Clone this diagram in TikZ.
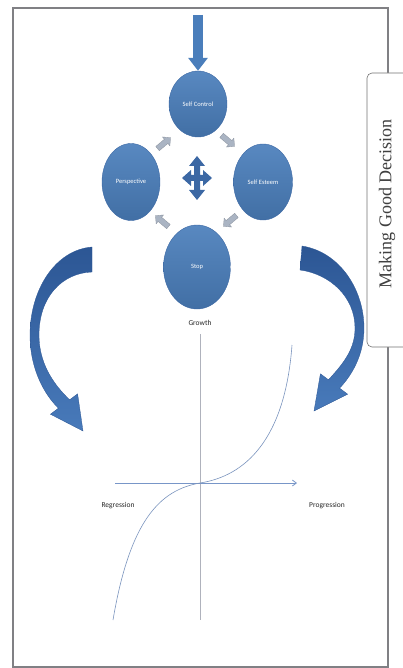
\documentclass[tikz,border=0pt]{standalone}
\usepackage{fontspec}
\setmainfont{Liberation Serif}
\newfontfamily\calfont{Carlito}
\usetikzlibrary{arrows.meta,positioning,calc,shapes.arrows,shapes.geometric}
\definecolor{circblue}{RGB}{74,126,187}
\definecolor{circdark}{RGB}{60,104,164}
\definecolor{curvtop}{RGB}{44,86,148}
\definecolor{curvbot}{RGB}{72,122,186}
\definecolor{framegray}{RGB}{128,128,132}
\definecolor{axisblue}{RGB}{120,150,200}
\definecolor{axisgray}{RGB}{175,178,188}
\definecolor{arrgray}{RGB}{170,180,195}
\tikzset{
  >={Latex[length=2mm]},
  circ/.style={ellipse,draw=circdark,line width=0.4pt,top color=circblue!92!white,bottom color=circblue!88!black,
    inner sep=0pt,text=white,font=\calfont\fontsize{6.5}{7}\selectfont},
  grayarr/.style={single arrow,fill=arrgray,draw=arrgray!80!black,line width=0.3pt,
    inner sep=2.6pt,minimum height=17pt,single arrow head extend=3pt},
  curvarr/.style={top color=curvtop,bottom color=curvbot,draw=curvtop,line width=0.3pt},
  lbl/.style={font=\calfont\fontsize{7.5}{8}\selectfont,text=black!85},
}
\begin{document}
\begin{tikzpicture}[x=1pt,y=-1pt]
  \useasboundingbox (0,0) rectangle (402,668);
  % frame
  \draw[framegray,line width=1.2pt] (13,8) rectangle (388,667);
  \draw[rounded corners=5pt,draw=black!55,fill=white,line width=0.6pt] (412,73) -- (367,73) -- (367,347) -- (412,347);
  \node[rotate=90,font=\fontsize{18}{20}\selectfont,text=black!75] (mgd) at (387,204) {Making Good Decision};
  % circles
  \node[circ,minimum width=58pt,minimum height=66pt] (ctl) at (198,104) {Self Control};
  \node[circ,minimum width=58pt,minimum height=77pt] (per) at (131,182) {Perspective};
  \node[circ,minimum width=59pt,minimum height=76pt] (est) at (263,182) {Self Esteem};
  \node[circ,minimum width=67pt,minimum height=84pt] (stp) at (197,267) {Stop};
  \coordinate (top) at (198,15);
  \draw[circblue,line width=10pt,-{Triangle[length=13pt,width=19pt]}] (top) -- (ctl.north);
  % small arrows between circles
  \node[grayarr,rotate=-40] (a1) at (227,140) {};
  \node[grayarr,rotate=-140] (a2) at (231,220) {};
  \node[grayarr,rotate=140] (a3) at (163,222) {};
  \node[grayarr,rotate=40] (a4) at (163,144) {};
  % quad arrow
  \fill[circdark,shift={(197,178)}] (0,-22) -- (8,-12) -- (3,-12) -- (3,-3) -- (6,-3) -- (6,-8) -- (15,0)
    -- (6,8) -- (6,3) -- (3,3) -- (3,12) -- (8,12) -- (0,22) -- (-8,12) -- (-3,12) -- (-3,3)
    -- (-6,3) -- (-6,8) -- (-15,0) -- (-6,-8) -- (-6,-3) -- (-3,-3) -- (-3,-12) -- (-8,-12) -- cycle;
  % curved arrows
  \path[curvarr] (92,247) .. controls (55,250) and (30,290) .. (30,335) .. controls (30,370) and (45,395) .. (58.4,408.2)
    -- (50.4,414.2) -- (83,431) -- (77.6,393.8) -- (69.6,399.8)
    .. controls (52,383) and (39,362) .. (39,335) .. controls (39,297) and (62,273) .. (92,272) -- cycle;
  \path[curvarr] (302,246) .. controls (340,252) and (364,290) .. (364,328) .. controls (364,355) and (352,375) .. (339.6,388.2)
    -- (347.6,394.2) -- (314,411) -- (320.4,373.8) -- (328.4,379.8)
    .. controls (345,362) and (355,348) .. (355,328) .. controls (355,297) and (330,274) .. (300,270) -- cycle;
  % graph
  \node[lbl] (grw) at (200,323) {Growth};
  \coordinate (vtop) at (200,334);
  \coordinate (vbot) at (200,620);
  \draw[axisgray,line width=0.7pt] (vtop) -- (vbot);
  \coordinate (hl) at (115,483);
  \coordinate (hr) at (297,483);
  \draw[axisblue,line width=0.8pt,-{Straight Barb[length=4pt,width=6pt]}] (hl) -- (hr);
  \node[lbl] (reg) at (118,506) {Regression};
  \node[lbl] (pro) at (327,506) {Progression};
  \draw[axisblue!85!gray,line width=0.6pt] (113,620) .. controls (130,520) and (160,490) .. (200,483)
    .. controls (245,476) and (285,440) .. (292,345);
\end{tikzpicture}
\end{document}
